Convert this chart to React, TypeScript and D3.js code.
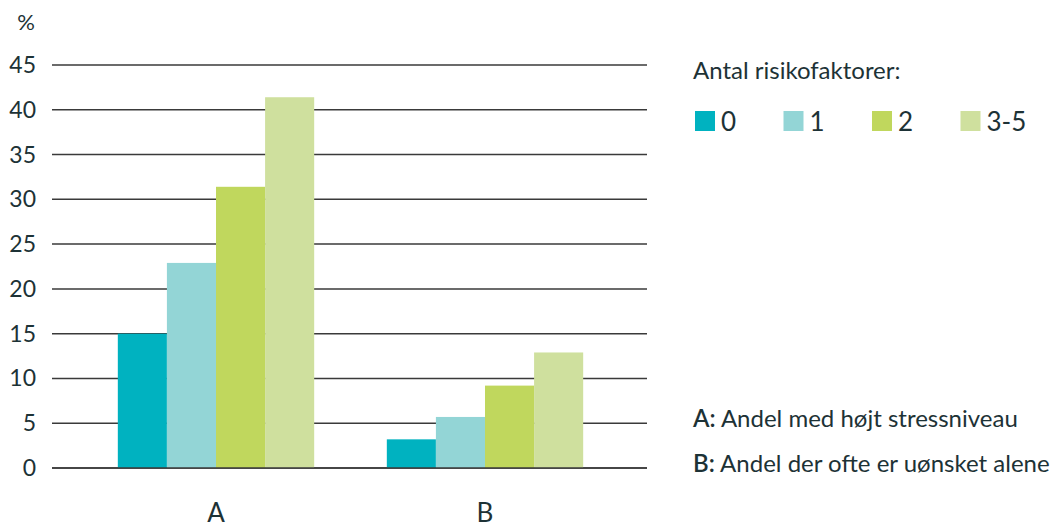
import React from "react";
import * as d3 from "d3";

const categories = ["A", "B"];
const seriesNames = ["0", "1", "2", "3-5"];
const series0 = [15, 3.2];
const series1 = [22.9, 5.7];
const series2 = [31.4, 9.2];
const series3 = [41.4, 12.9];
const yTicks = [0, 5, 10, 15, 20, 25, 30, 35, 40, 45];
const notes = [
  { key: "A:", text: " Andel med højt stressniveau" },
  { key: "B:", text: " Andel der ofte er uønsket alene" },
];
const colors = ["#00b2c0", "#93d5d6", "#c0d75d", "#cfe09e"];

const W = 1060;
const H = 528;
const FONT = "Lato, 'Open Sans', sans-serif";
const TXT = "#1d3236";

export default function App() {
  const allSeries = [series0, series1, series2, series3];
  const y = d3.scaleLinear().domain([0, 45]).range([468, 65]);
  const x0 = d3.scaleBand().domain(categories).range([81.5, 619.5]).paddingInner(0.27).paddingOuter(0.135);
  const x1 = d3.scaleBand().domain(seriesNames).range([0, x0.bandwidth()]);
  const gridX0 = 52;
  const gridX1 = 647;

  return (
    <svg width={W} height={H} style={{ position: "absolute", left: 0, top: 0, background: "#fff" }}>
      <text x={26} y={30} fontFamily={FONT} fontSize={22} fill={TXT} textAnchor="middle">%</text>
      {yTicks.map((t) => (
        <g key={t}>
          <line x1={gridX0} x2={gridX1} y1={y(t)} y2={y(t)} stroke="#3a3a3a" strokeWidth={1.5} />
          <text x={36} y={y(t)} dy="0.35em" textAnchor="end" fontFamily={FONT} fontSize={23} fill={TXT}>{t}</text>
        </g>
      ))}
      {categories.map((c, ci) => (
        <g key={c}>
          {seriesNames.map((s, si) => {
            const v = allSeries[si][ci];
            return (
              <rect
                key={s}
                x={(x0(c) ?? 0) + (x1(s) ?? 0)}
                y={y(v)}
                width={x1.bandwidth()}
                height={y(0) - y(v)}
                fill={colors[si]}
              />
            );
          })}
          <text x={(x0(c) ?? 0) + x0.bandwidth() / 2} y={522} textAnchor="middle" fontFamily={FONT} fontSize={26} fill={TXT}>{c}</text>
        </g>
      ))}
      <line x1={gridX0} x2={gridX1} y1={y(0)} y2={y(0)} stroke="#3a3a3a" strokeWidth={1.5} />

      <text x={693} y={79} fontFamily={FONT} fontSize={24} fill={TXT}>Antal risikofaktorer:</text>
      {seriesNames.map((s, i) => {
        const lx = 695 + i * 88.5;
        return (
          <g key={s}>
            <rect x={lx} y={111} width={20} height={20} fill={colors[i]} />
            <text x={lx + 26} y={122} dy="0.35em" fontFamily={FONT} fontSize={26} fill={TXT}>{s}</text>
          </g>
        );
      })}
      {notes.map((n, i) => (
        <text key={n.key} x={693} y={427 + i * 45} fontFamily={FONT} fontSize={24} fill={TXT}>
          <tspan fontWeight={600}>{n.key}</tspan>
          <tspan>{n.text}</tspan>
        </text>
      ))}
    </svg>
  );
}
